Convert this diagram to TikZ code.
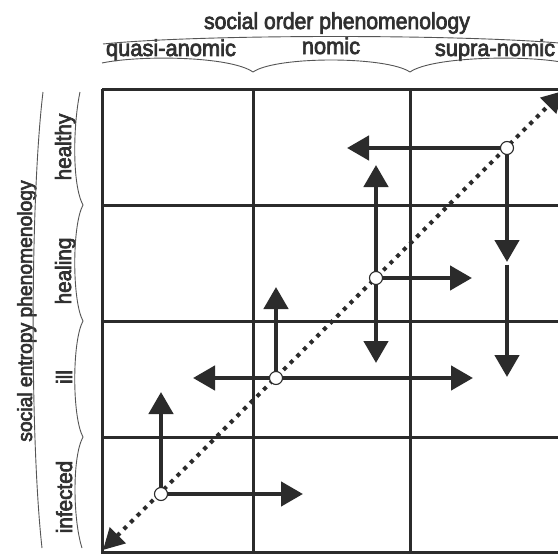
\documentclass[tikz,border=0pt]{standalone}
\usepackage{fontspec}
\setmainfont{Liberation Sans}
\newfontfamily\headfont{Liberation Sans}[FakeStretch=0.92, FakeBold=3]
\newfontfamily\colfont{Liberation Sans}[FakeStretch=0.95, FakeBold=3]
\newfontfamily\sidefont{Liberation Sans}[FakeStretch=0.94, FakeBold=3]
\usetikzlibrary{arrows.meta}
\definecolor{ink}{HTML}{2B2B2B}
\definecolor{txt}{HTML}{303030}
\definecolor{brace}{HTML}{555555}
\tikzset{
  gridline/.style={line width=3pt, draw=ink},
  flow/.style={line width=4.5pt, draw=ink, -{Triangle[length=22pt,width=24pt]}},
  diag/.style={line width=4pt, draw=ink, dash pattern=on 4pt off 5.4pt,
               {Triangle[length=21pt,width=22pt]}-{Triangle[length=21pt,width=22pt]}},
  state/.style={circle, draw=ink, line width=1.1pt, fill=white, minimum size=13pt, inner sep=0pt},
  arcline/.style={line width=0.9pt, draw=brace},
  toptitle/.style={text=txt, inner sep=0pt, font=\headfont\fontsize{23}{26}\selectfont},
  collbl/.style={text=txt, inner sep=0pt, font=\colfont\fontsize{23}{26}\selectfont},
  rowlbl/.style={text=txt, inner sep=0pt, font=\sidefont\fontsize{22}{25}\selectfont},
  sidetitle/.style={text=txt, inner sep=0pt, font=\sidefont\fontsize{20.5}{24}\selectfont},
}
\begin{document}
\begin{tikzpicture}[x=1pt, y=-1pt]
\clip (0,0) rectangle (558,554);
\fill[white] (0,0) rectangle (558,554);

% grid of three columns and four rows
\draw[gridline] (102,89) -- (566,89);
\draw[gridline] (102,205) -- (566,205);
\draw[gridline] (102,321) -- (566,321);
\draw[gridline] (102,437) -- (566,437);
\draw[gridline] (102,552) -- (566,552);
\draw[gridline] (102,89) -- (102,553.5);
\draw[gridline] (253,89) -- (253,553.5);
\draw[gridline] (410,89) -- (410,553.5);
\draw[gridline] (566,89) -- (566,553.5);

% headings
\node[toptitle, anchor=base] (ordertitle) at (337,29) {social order phenomenology};
\node[collbl, anchor=base] (quasi) at (171,56) {quasi-anomic};
\node[collbl, anchor=base] (nomic) at (331,54) {nomic};
\node[collbl, anchor=base] (supra) at (495,56) {supra-nomic};

\node[sidetitle, anchor=base, rotate=90] (entropytitle) at (32,311) {social entropy phenomenology};
\node[rowlbl, anchor=base, rotate=90] (healthy) at (71,147) {healthy};
\node[rowlbl, anchor=base, rotate=90] (healing) at (71,271) {healing};
\node[rowlbl, anchor=base, rotate=90] (ill) at (72,377) {ill};
\node[rowlbl, anchor=base, rotate=90] (infected) at (72,497) {infected};

% grouping arcs along the top
\draw[arcline] (103,44) .. controls (200,34) and (470,34) .. (570,44);
\draw[arcline] (102,63) .. controls (140,55) and (230,56) .. (253,72);
\draw[arcline] (253,72) .. controls (276,56) and (386,56) .. (410,72);
\draw[arcline] (410,72) .. controls (433,56) and (530,55) .. (566,63);

% grouping arcs along the left side
\draw[arcline] (43,92) .. controls (30,200) and (30,440) .. (42,548);
\draw[arcline] (80,92) .. controls (73,125) and (72,185) .. (83,205);
\draw[arcline] (83,205) .. controls (72,225) and (72,301) .. (83,321);
\draw[arcline] (83,321) .. controls (72,341) and (72,417) .. (83,437);
\draw[arcline] (83,437) .. controls (72,457) and (73,520) .. (82,548);

% states on the diagonal
\coordinate (pa) at (161,494);
\coordinate (pb) at (276,378);
\coordinate (pc) at (376,278);
\coordinate (pd) at (507,148);

% diagonal
\coordinate (dlow) at (103,550);
\coordinate (dhigh) at (563,91);
\draw[diag] (dlow) -- (dhigh);

% arrow tips
\coordinate (aup) at (161,392);
\coordinate (aright) at (303,494);
\coordinate (bup) at (276,287);
\coordinate (bleft) at (193,378);
\coordinate (bright) at (473,378);
\coordinate (cup) at (376,165);
\coordinate (cdown) at (376,363);
\coordinate (cright) at (472,278);
\coordinate (dleft) at (347,148);
\coordinate (dmid) at (507,262);
\coordinate (dnext) at (507,264.5);
\coordinate (ddown) at (507,377);

\draw[flow] (pa) -- (aup);
\draw[flow] (pa) -- (aright);
\draw[flow] (pb) -- (bup);
\draw[flow] (pb) -- (bleft);
\draw[flow] (pb) -- (bright);
\draw[flow] (pc) -- (cup);
\draw[flow] (pc) -- (cdown);
\draw[flow] (pc) -- (cright);
\draw[flow] (pd) -- (dleft);
\draw[flow] (pd) -- (dmid);
\draw[flow] (dnext) -- (ddown);

\node[state] (sa) at (pa) {};
\node[state] (sb) at (pb) {};
\node[state] (sc) at (pc) {};
\node[state] (sd) at (pd) {};
\end{tikzpicture}
\end{document}
